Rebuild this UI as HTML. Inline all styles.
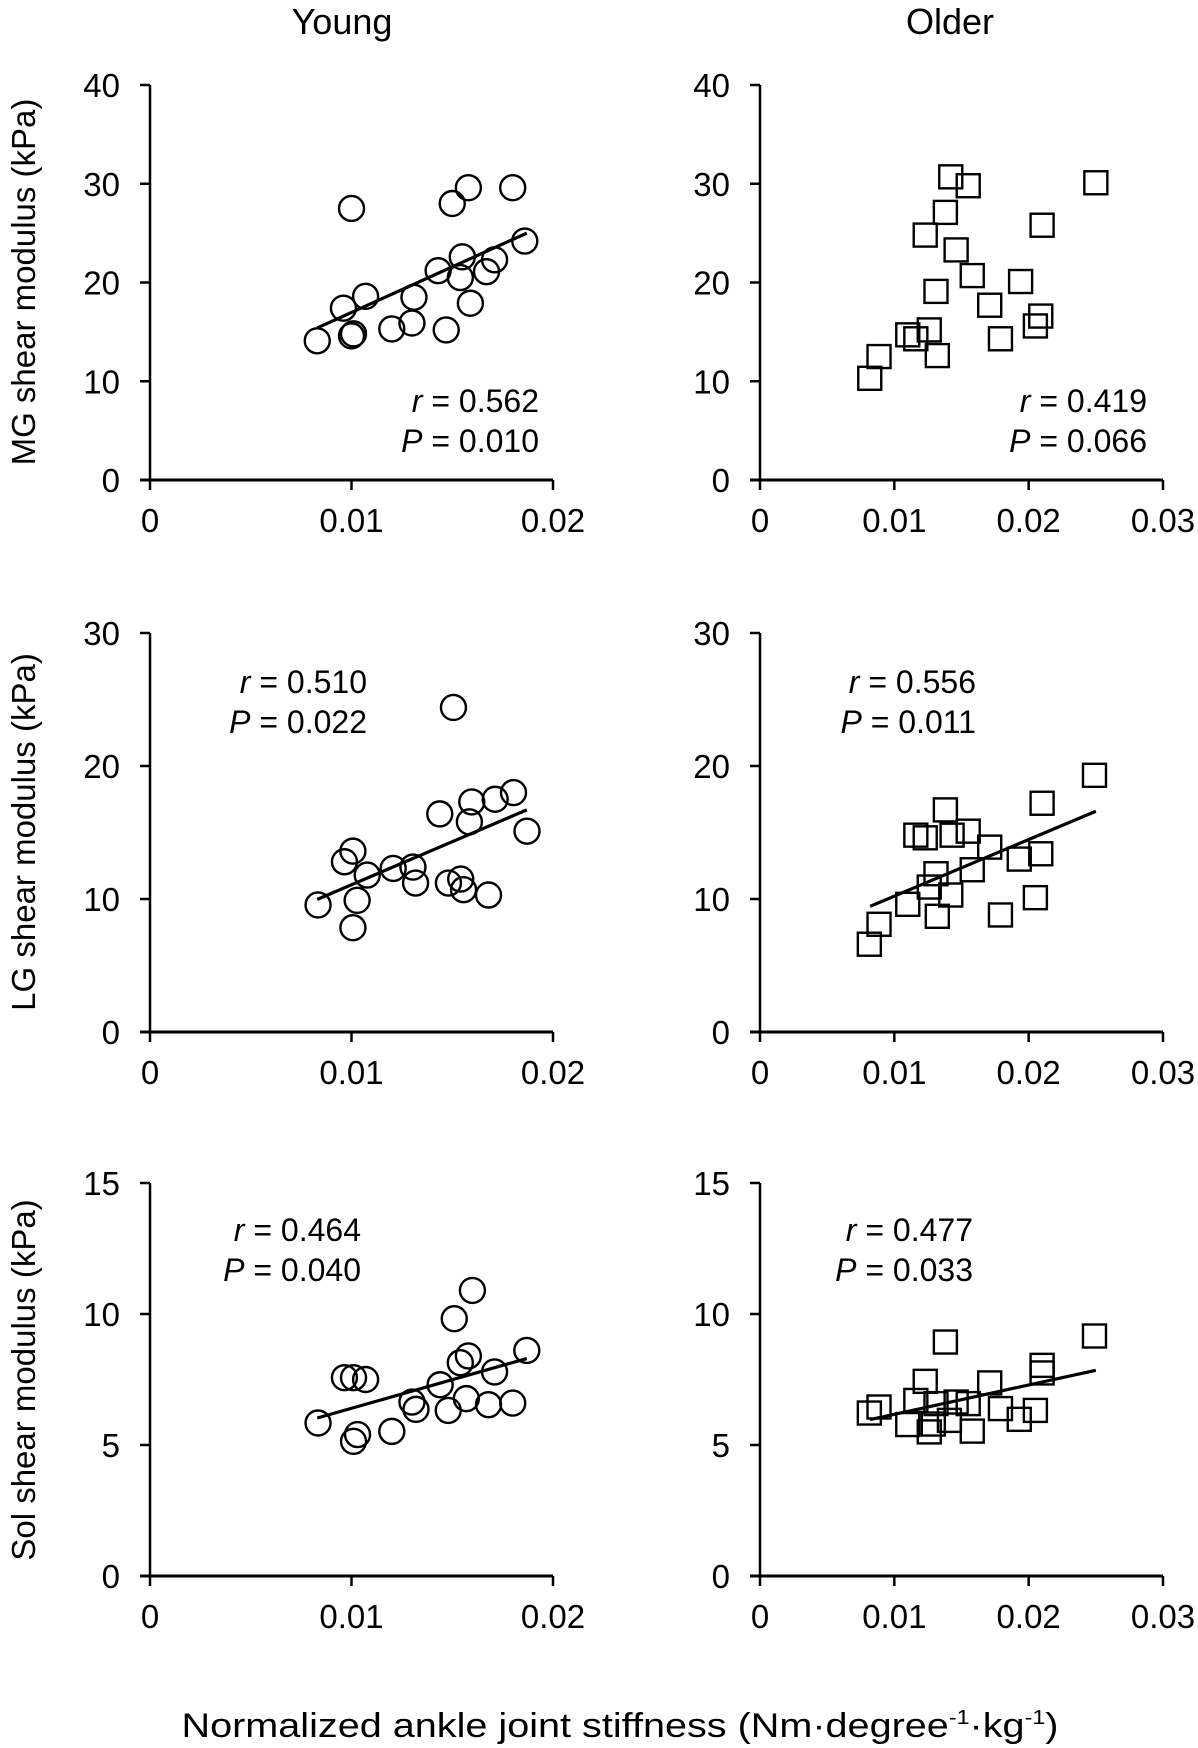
<!DOCTYPE html>
<html><head><meta charset="utf-8">
<style>
html,body{margin:0;padding:0;background:#fff;}
svg{display:block;font-family:"Liberation Sans",Arial,sans-serif;}
</style></head>
<body>
<svg id="chart" width="1198" height="1748" viewBox="0 0 1198 1748" xmlns="http://www.w3.org/2000/svg">
<text x="342" y="34" font-size="36" text-anchor="middle">Young</text>
<text x="950" y="34" font-size="36" text-anchor="middle">Older</text>
<text transform="translate(35,282) rotate(-90)" font-size="33" text-anchor="middle">MG shear modulus (kPa)</text>
<text transform="translate(35,832) rotate(-90)" font-size="33" text-anchor="middle">LG shear modulus (kPa)</text>
<text transform="translate(35,1380) rotate(-90)" font-size="33" text-anchor="middle">Sol shear modulus (kPa)</text>
<text x="620" y="1737" font-size="34" text-anchor="middle" textLength="877" lengthAdjust="spacingAndGlyphs">Normalized ankle joint stiffness (Nm·degree<tspan font-size="20" dy="-13">-1</tspan><tspan dy="13">·kg</tspan><tspan font-size="20" dy="-13">-1</tspan><tspan dy="13">)</tspan></text>
<g id="plots"></g>
</svg>
<script>
const youngMGx = [0.0083,0.0100,0.0100,0.0101,0.0096,0.0107,0.0120,0.0130,0.0131,0.0143,0.0150,0.0147,0.0158,0.0155,0.0154,0.0159,0.0167,0.0171,0.0180,0.0186];
const youngMGy = [14.1,27.5,14.6,14.8,17.4,18.6,15.3,15.9,18.5,21.2,28.0,15.2,29.6,22.6,20.5,17.9,21.1,22.3,29.6,24.2];
const youngLGx = [0.00834,0.01007,0.01028,0.01007,0.00965,0.01078,0.01207,0.01305,0.01318,0.01438,0.01506,0.01481,0.01542,0.01556,0.01585,0.01597,0.0168,0.01713,0.01804,0.01871];
const youngLGy = [9.55,7.84,9.9,13.6,12.8,11.8,12.3,12.4,11.2,16.4,24.4,11.2,11.5,10.7,15.8,17.3,10.3,17.5,18.0,15.1];
const youngSolx = [0.00834,0.00965,0.0101,0.0107,0.0103,0.0101,0.0120,0.0130,0.0132,0.0144,0.0151,0.0148,0.0154,0.0158,0.0157,0.0160,0.0168,0.0171,0.0180,0.0187];
const youngSoly = [5.84,7.57,7.57,7.5,5.4,5.14,5.52,6.64,6.36,7.3,9.82,6.32,8.14,8.4,6.77,10.9,6.54,7.79,6.6,8.61];
const olderMGx = [0.00817,0.00886,0.0110,0.0116,0.0126,0.0132,0.0131,0.0123,0.0138,0.0142,0.0155,0.0146,0.0158,0.0171,0.0179,0.0194,0.0205,0.0209,0.0210,0.0250];
const olderMGy = [10.3,12.5,14.7,14.3,15.2,12.6,19.1,24.8,27.1,30.7,29.8,23.3,20.7,17.7,14.3,20.1,15.6,16.6,25.8,30.1];
const olderLGx = [0.00814,0.00886,0.0110,0.0116,0.0123,0.0126,0.0131,0.0132,0.0138,0.0142,0.0143,0.0155,0.0158,0.0171,0.0179,0.0193,0.0205,0.0209,0.0210,0.0249];
const olderLGy = [6.6,8.1,9.6,14.8,14.6,10.9,11.9,8.7,16.7,10.3,14.8,15.1,12.2,13.9,8.8,13.0,10.1,13.4,17.2,19.3];
const olderSolx = [0.00814,0.00886,0.0110,0.0116,0.0123,0.0126,0.0129,0.0131,0.0138,0.0141,0.0146,0.0155,0.0158,0.0171,0.0179,0.0193,0.0205,0.0210,0.0210,0.0249];
const olderSoly = [6.22,6.45,5.78,6.7,7.43,5.5,5.8,6.58,8.93,5.94,6.64,6.58,5.53,7.37,6.39,5.98,6.32,8.04,7.75,9.16];
const youngMGfit = [0.0083,15.4,0.0187,25.0];
const youngLGfit = [0.0083,9.97,0.0187,16.7];
const youngSolfit = [0.0083,6.03,0.0187,8.3];
const olderLGfit = [0.0082,9.45,0.0250,16.6];
const olderSolfit = [0.0082,5.97,0.0250,7.85];
const youngXTicks = ["0","0.01","0.02"];
const olderXTicks = ["0","0.01","0.02","0.03"];
const mgYTicks = ["0","10","20","30","40"];
const lgYTicks = ["0","10","20","30"];
const solYTicks = ["0","5","10","15"];
const statsText = [["0.562","0.010"],["0.419","0.066"],["0.510","0.022"],["0.556","0.011"],["0.464","0.040"],["0.477","0.033"]];

const NS="http://www.w3.org/2000/svg";
const root=document.getElementById('plots');
function mk(tag,attrs,parent){const e=document.createElementNS(NS,tag);for(const k in attrs)e.setAttribute(k,attrs[k]);(parent||root).appendChild(e);return e;}

const panels=[
 {id:'young-mg',x0:150,x1:553,xmax:0.02,y0:480,y1:85,ymax:40,xt:youngXTicks,yt:mgYTicks,xs:youngMGx,ys:youngMGy,fit:youngMGfit,shape:'circle',st:0,sx:539,sy:412,anchor:'end'},
 {id:'older-mg',x0:760,x1:1163,xmax:0.03,y0:480,y1:85,ymax:40,xt:olderXTicks,yt:mgYTicks,xs:olderMGx,ys:olderMGy,fit:null,shape:'square',st:1,sx:1147,sy:412,anchor:'end'},
 {id:'young-lg',x0:150,x1:553,xmax:0.02,y0:1032,y1:633,ymax:30,xt:youngXTicks,yt:lgYTicks,xs:youngLGx,ys:youngLGy,fit:youngLGfit,shape:'circle',st:2,sx:367,sy:693,anchor:'end'},
 {id:'older-lg',x0:760,x1:1163,xmax:0.03,y0:1032,y1:633,ymax:30,xt:olderXTicks,yt:lgYTicks,xs:olderLGx,ys:olderLGy,fit:olderLGfit,shape:'square',st:3,sx:976,sy:693,anchor:'end'},
 {id:'young-sol',x0:150,x1:553,xmax:0.02,y0:1576,y1:1183,ymax:15,xt:youngXTicks,yt:solYTicks,xs:youngSolx,ys:youngSoly,fit:youngSolfit,shape:'circle',st:4,sx:361,sy:1241,anchor:'end'},
 {id:'older-sol',x0:760,x1:1163,xmax:0.03,y0:1576,y1:1183,ymax:15,xt:olderXTicks,yt:solYTicks,xs:olderSolx,ys:olderSoly,fit:olderSolfit,shape:'square',st:5,sx:973,sy:1241,anchor:'end'}
];

panels.forEach(p=>{
  const g=mk('g',{});
  
  
  const X=v=>p.x0+(v/p.xmax)*(p.x1-p.x0);
  const Y=v=>p.y0-(v/p.ymax)*(p.y0-p.y1);
  const ya=mk('line',{x1:p.x0,y1:p.y0,x2:p.x0,y2:p.y1,stroke:'#000','stroke-width':2.5},g);
  
  
  const xa=mk('line',{x1:p.x0-10,y1:p.y0,x2:p.x1,y2:p.y0,stroke:'#000','stroke-width':3},g);
  
  
  p.yt.forEach((t,i)=>{
    const v=parseFloat(t), y=Y(v);
    mk('line',{x1:p.x0-10,y1:y,x2:p.x0,y2:y,stroke:'#000','stroke-width':2.5},g);
    const tx=mk('text',{x:p.x0-30,y:y+12,'font-size':33,'text-anchor':'end'},g);
    tx.textContent=t;
    
    
  });
  p.xt.forEach((t,i)=>{
    const v=parseFloat(t), x=X(v);
    mk('line',{x1:x,y1:p.y0,x2:x,y2:p.y0+10,stroke:'#000','stroke-width':2.5},g);
    const tx=mk('text',{x:x,y:p.y0+52,'font-size':33,'text-anchor':'middle'},g);
    tx.textContent=t;
    
    
  });
  if(p.fit){
    const l=mk('line',{x1:X(p.fit[0]),y1:Y(p.fit[1]),x2:X(p.fit[2]),y2:Y(p.fit[3]),stroke:'#000','stroke-width':3.2},g);
    
    
  }
  p.xs.forEach((xv,i)=>{
    const cx=X(xv), cy=Y(p.ys[i]);
    let m;
    if(p.shape==='circle') m=mk('circle',{cx:cx,cy:cy,r:12.5,fill:'none',stroke:'#000','stroke-width':2.4},g);
    else m=mk('rect',{x:cx-11.5,y:cy-11.5,width:23,height:23,fill:'none',stroke:'#000','stroke-width':2.4},g);
    
    
  });
  const s=statsText[p.st];
  const t1=mk('text',{x:p.sx,y:p.sy,'font-size':32,'text-anchor':p.anchor},g);
  t1.innerHTML='<tspan font-style="italic">r</tspan> = '+s[0];
  
  
  const t2=mk('text',{x:p.sx,y:p.sy+40,'font-size':32,'text-anchor':p.anchor},g);
  t2.innerHTML='<tspan font-style="italic">P</tspan> = '+s[1];
  
  
});
</script>
</body></html>
